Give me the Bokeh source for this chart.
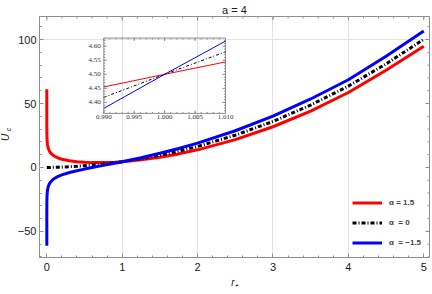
import numpy as np
from bokeh.plotting import figure
from bokeh.models import Range1d, Label, Legend, LegendItem, FixedTicker
from bokeh.embed import file_html
from bokeh.resources import INLINE
from bokeh.core.properties import value

# ---------------- data ----------------
r_plus = [1e-7, 1e-6, 1e-5, 1e-4, 0.001, 0.003, 0.006, 0.01, 0.02, 0.035, 0.05, 0.075,
          0.1, 0.15, 0.2, 0.3, 0.4, 0.5, 0.6, 0.75, 0.9, 1.0, 1.25, 1.5, 1.75, 2.0,
          2.5, 3.0, 3.5, 4.0, 4.5, 5.0]
uc_alpha_p15 = [61.25, 52.50, 43.75, 35.00, 26.25, 22.08, 19.45, 17.51, 14.89, 12.78, 11.43, 9.93,
                8.88, 7.42, 6.44, 5.17, 4.41, 3.97, 3.77, 3.78, 4.12, 4.50, 5.92, 7.97, 10.59, 13.77,
                21.74, 31.83, 44.02, 58.6, 76.0, 94.8]
uc_alpha_0 = [0.0, 0.0, 0.0, 0.0, 0.0, 0.0, 0.01, 0.01, 0.02, 0.04, 0.05, 0.09,
              0.13, 0.21, 0.32, 0.59, 0.93, 1.34, 1.83, 2.69, 3.72, 4.50, 6.77, 9.51, 12.72, 16.40,
              25.22, 36.00, 48.78, 63.60, 81.0, 100.2]
uc_alpha_m15 = [-61.25, -52.50, -43.75, -35.00, -26.25, -22.08, -19.43, -17.49, -14.85, -12.70, -11.33, -9.75,
                -8.62, -7.00, -5.80, -3.99, -2.55, -1.29, -0.11, 1.60, 3.32, 4.50, 7.62, 11.05, 14.85, 19.03,
                28.70, 40.17, 53.54, 68.6, 87.0, 106.8]

inset_r = [0.990, 1.000, 1.010]
inset_p15 = [4.455, 4.500, 4.544]
inset_0 = [4.418, 4.500, 4.580]
inset_m15 = [4.379, 4.500, 4.618]

x_ticks = [0, 1, 2, 3, 4, 5]
y_ticks = [-50, 0, 50, 100]
inset_x_ticks = [0.990, 0.995, 1.000, 1.005, 1.010]
inset_x_labels = ["0.990", "0.995", "1.000", "1.005", "1.010"]
inset_y_ticks = [4.40, 4.45, 4.50, 4.55, 4.60]
inset_y_labels = ["4.40", "4.45", "4.50", "4.55", "4.60"]
legend_labels = ["\u03b1 = 1.5", "\u03b1  = 0", "\u03b1  = \u22121.5"]
title_text = "a = 4"
x_label = "r\u208a"
y_label = "U"
y_label_sub = "c"

# ---------------- layout ----------------
W, H = 432, 294
FL, FT, FR, FB = 39, 15, 429, 258          # frame edges in canvas px
FW, FH = FR - FL, FB - FT
X0, X1 = -0.097, 5.076
Y0, Y1 = -70.43, 118.05
# inset box (canvas px) and inset plot range
IL, IR, IT, IB = 103.3, 225.0, 36.7, 112.7
ix_lo, ix_hi = 0.990, 1.010
iy_lo, iy_hi = 4.361, 4.629

sx = (ix_hi - ix_lo) / (IR - IL)
sy = (iy_hi - iy_lo) / (IB - IT)
ix_start = ix_lo - (IL - FL) * sx
ix_end = ix_hi + (FR - IR) * sx
iy_start = iy_lo - (FB - IB) * sy
iy_end = iy_hi + (IT - FT) * sy

FRAME = "#8f8f8f"
FONT = "Liberation Sans"
TXT = "#1a1a1a"

p = figure(width=W, height=H, x_range=Range1d(X0, X1), y_range=Range1d(Y0, Y1),
           output_backend="svg", toolbar_location=None,
           min_border_left=FL, min_border_right=W - FR,
           min_border_top=FT, min_border_bottom=H - FB)
p.extra_x_ranges = {"ix": Range1d(ix_start, ix_end)}
p.extra_y_ranges = {"iy": Range1d(iy_start, iy_end)}
p.outline_line_color = FRAME
p.background_fill_color = "white"
p.border_fill_color = "white"

p.title.text = title_text
p.title.align = "center"
p.title.text_font = FONT
p.title.text_font_size = "11px"
p.title.text_font_style = "normal"
p.title.text_color = TXT
p.title.standoff = 2

xminor = [round(v, 2) for v in np.arange(0, 5.01, 0.2)]
yminor = list(range(-70, 120, 10))
xt = FixedTicker(ticks=x_ticks, minor_ticks=xminor)
yt = FixedTicker(ticks=y_ticks, minor_ticks=yminor)

for ax, tk in ((p.xaxis[0], xt), (p.yaxis[0], yt)):
    ax.ticker = tk
    ax.axis_line_color = FRAME
    ax.major_tick_line_color = FRAME
    ax.minor_tick_line_color = FRAME
    ax.major_tick_in = 4
    ax.major_tick_out = 0
    ax.minor_tick_in = 2
    ax.minor_tick_out = 0
    ax.major_label_text_font = FONT
    ax.major_label_text_font_size = "11px"
    ax.major_label_text_color = TXT
    ax.axis_label_text_font = FONT
    ax.axis_label_text_font_size = "10px"
    ax.axis_label_text_font_style = "italic"
    ax.axis_label_text_color = TXT

p.xaxis[0].major_label_standoff = 5
p.xaxis[0].axis_label = x_label
p.xaxis[0].axis_label_standoff = 3
p.yaxis[0].major_label_standoff = 3
p.yaxis[0].major_label_overrides = {-50: "\u221250"}

# ticks on the top and right frame edges
upx = (X1 - X0) / FW
upy = (Y1 - Y0) / FH
for xs, L in ((x_ticks, 4), (xminor, 2)):
    p.segment(x0=xs, y0=[Y1] * len(xs), x1=xs, y1=[Y1 - L * upy] * len(xs),
              line_color=FRAME, line_width=1)
for ys, L in ((y_ticks, 4), (yminor, 2)):
    p.segment(x0=[X1] * len(ys), y0=ys, x1=[X1 - L * upx] * len(ys), y1=ys,
              line_color=FRAME, line_width=1)

p.xgrid.ticker = FixedTicker(ticks=[1, 2, 3, 4])
p.ygrid.ticker = FixedTicker(ticks=[100])
p.xgrid.grid_line_color = "#e3e3e3"
p.ygrid.grid_line_color = "#e3e3e3"

# main curves
r_red = p.line(r_plus, uc_alpha_p15, line_color="#ff0000", line_width=3)
r_blk = p.line(r_plus, uc_alpha_0, line_color="black", line_width=3, line_dash="4 2 1 2")
r_blu = p.line(r_plus, uc_alpha_m15, line_color="#0000ff", line_width=3)

# inset
IK = dict(x_range_name="ix", y_range_name="iy")
p.quad(left=[ix_lo], right=[ix_hi], bottom=[iy_lo], top=[iy_hi], fill_alpha=0,
       line_color=FRAME, line_width=1, **IK)
p.line(inset_r, inset_p15, line_color="#ff0000", line_width=1, **IK)
p.line(inset_r, inset_0, line_color="black", line_width=1, line_dash="3 2 1 2", **IK)
p.line(inset_r, inset_m15, line_color="#0000ff", line_width=1, **IK)

ixminor = [round(v, 4) for v in np.arange(ix_lo, ix_hi + 1e-9, 0.001)]
iyminor = [round(v, 3) for v in np.arange(4.37, iy_hi, 0.01)]
for xs, L in ((inset_x_ticks, 3), (ixminor, 1.5)):
    p.segment(x0=xs, y0=[iy_lo] * len(xs), x1=xs, y1=[iy_lo + L * sy] * len(xs),
              line_color=FRAME, line_width=1, **IK)
    p.segment(x0=xs, y0=[iy_hi] * len(xs), x1=xs, y1=[iy_hi - L * sy] * len(xs),
              line_color=FRAME, line_width=1, **IK)
for ys, L in ((inset_y_ticks, 3), (iyminor, 1.5)):
    p.segment(x0=[ix_lo] * len(ys), y0=ys, x1=[ix_lo + L * sx] * len(ys), y1=ys,
              line_color=FRAME, line_width=1, **IK)
    p.segment(x0=[ix_hi] * len(ys), y0=ys, x1=[ix_hi - L * sx] * len(ys), y1=ys,
              line_color=FRAME, line_width=1, **IK)

p.text(x=inset_x_ticks, y=[iy_lo] * len(inset_x_ticks), text=inset_x_labels,
       text_font=value("Liberation Serif"), text_font_size="7px", text_color="#333333",
       text_align="center", text_baseline="top", y_offset=2, **IK)
p.text(x=[ix_lo] * len(inset_y_ticks), y=inset_y_ticks, text=inset_y_labels,
       text_font=value("Liberation Serif"), text_font_size="7px", text_color="#333333",
       text_align="right", text_baseline="middle", x_offset=-3, **IK)

# y-axis label "U" with subscript "c" (side-panel labels are not clipped to the frame)
def px_to_x(px):
    return X0 + (px - FL) / FW * (X1 - X0)

def py_to_y(py):
    return Y1 - (py - FT) / FH * (Y1 - Y0)

p.add_layout(Label(x=px_to_x(5.0), y=py_to_y(137.0), text=y_label, text_font=FONT,
                   text_font_size="10px", text_font_style="italic", text_align="center",
                   text_baseline="middle", angle=np.pi / 2, text_color=TXT), "left")
p.add_layout(Label(x=px_to_x(7.5), y=py_to_y(129.0), text=y_label_sub, text_font=FONT,
                   text_font_size="7px", text_font_style="italic", text_align="center",
                   text_baseline="middle", angle=np.pi / 2, text_color=TXT), "below")

# legend
legend = Legend(items=[LegendItem(label=legend_labels[0], renderers=[r_red]),
                       LegendItem(label=legend_labels[1], renderers=[r_blk]),
                       LegendItem(label=legend_labels[2], renderers=[r_blu])],
                location=(313, 6), glyph_width=30, glyph_height=17, label_height=17,
                spacing=3, padding=0, margin=0, label_standoff=7,
                label_text_font=FONT, label_text_font_size="8px", label_text_font_style="bold",
                border_line_alpha=0, background_fill_alpha=0)
p.add_layout(legend)

open("out.html", "w").write(file_html(p, INLINE))
